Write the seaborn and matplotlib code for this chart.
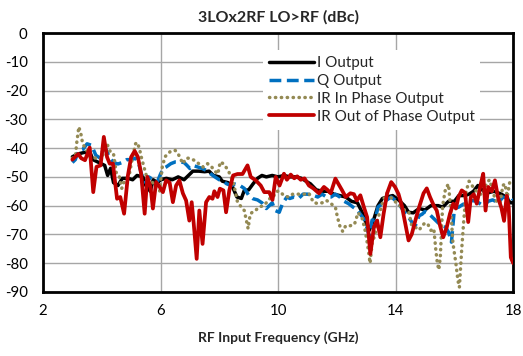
import matplotlib
matplotlib.use("Agg")
import matplotlib.pyplot as plt
import seaborn as sns
import pandas as pd

# Measured spur level (dBc) versus RF input frequency (GHz), one list pair per output
i_freq = [3.0, 3.2, 3.4, 3.6, 3.7, 3.9, 4.1, 4.2, 4.3, 4.4, 4.55, 4.7, 4.9, 5.05, 5.2, 5.4,
          5.5, 5.65, 5.75, 5.9, 6.0, 6.2, 6.4, 6.6, 6.8, 7.0, 7.1, 7.3, 7.5, 7.65, 7.8, 8.0,
          8.1, 8.3, 8.45, 8.6, 8.75, 8.85, 9.0, 9.15, 9.3, 9.45, 9.6, 9.8, 10.0, 10.2, 10.4,
          10.6, 10.8, 10.95, 11.1, 11.3, 11.5, 11.7, 11.9, 12.1, 12.3, 12.5, 12.7, 12.86,
          13.0, 13.1, 13.25, 13.4, 13.55, 13.7, 13.9, 14.1, 14.3, 14.44, 14.6, 14.8, 15.0,
          15.2, 15.45, 15.6, 15.8, 16.0, 16.15, 16.35, 16.5, 16.65, 16.8, 17.0, 17.15, 17.35,
          17.6, 17.75, 17.9, 18.0]
i_dbc = [-43, -42, -41.5, -41.5, -44, -45, -46, -49.5, -47, -52, -53, -50.5, -50.5, -51,
         -49.5, -50, -53, -55, -51, -52, -51, -50.5, -51, -50, -51, -49, -48, -48, -48.2,
         -48, -49.5, -50, -51.5, -52, -53.5, -57, -57.5, -54.7, -54.5, -52.4, -50.5, -49.5,
         -50, -49.5, -50, -49.5, -50, -50, -50.5, -51.5, -52.4, -54.5, -55, -55, -56, -56.5,
         -57, -58.5, -59, -62.3, -66, -68.6, -65, -60, -57.5, -57, -56.5, -58, -60, -62.3,
         -62.5, -61, -61.5, -60, -60, -60.5, -58.5, -58.5, -56.5, -56.5, -56, -55, -53, -55,
         -55.5, -55, -56, -57, -59, -59]

q_freq = [3.0, 3.1, 3.2, 3.35, 3.5, 3.65, 3.8, 3.95, 4.05, 4.15, 4.25, 4.4, 4.55, 4.7, 4.85,
          5.0, 5.15, 5.25, 5.35, 5.5, 5.6, 5.75, 5.9, 6.0, 6.1, 6.2, 6.35, 6.5, 6.65, 6.8,
          6.9, 7.0, 7.1, 7.25, 7.4, 7.55, 7.7, 7.85, 8.0, 8.1, 8.25, 8.4, 8.55, 8.7, 8.85,
          9.0, 9.15, 9.3, 9.45, 9.6, 9.7, 9.8, 9.9, 10.04, 10.15, 10.3, 10.4, 10.55, 10.7,
          10.85, 11.0, 11.2, 11.35, 11.5, 11.65, 11.8, 11.95, 12.1, 12.25, 12.4, 12.55, 12.7,
          12.8, 12.95, 13.1, 13.2, 13.3, 13.4, 13.55, 13.7, 13.85, 14.0, 14.15, 14.3, 14.44,
          14.55, 14.67, 14.8, 14.9, 15.0, 15.15, 15.3, 15.45, 15.6, 15.7, 15.8, 15.9, 16.0,
          16.15, 16.3, 16.45, 16.6, 16.75, 16.9, 17.0, 17.15, 17.3, 17.5, 17.65, 17.8, 17.9,
          18.0]
q_dbc = [-45, -44, -41, -40.5, -38.5, -39, -42.5, -43.5, -40.5, -40.5, -43, -45, -45.5, -45,
         -44, -44, -43.5, -45, -49, -52, -50, -51, -51.5, -49, -47, -46.5, -45.4, -44.8,
         -44.8, -45, -46, -47.1, -46, -46.5, -47, -47.7, -48.9, -50, -51, -51.2, -52.4, -53,
         -52.5, -53, -54, -56.4, -57.6, -58, -59, -61, -60, -59, -61.7, -62.3, -59.3, -57,
         -57.5, -57, -57.5, -56, -56, -56.4, -57, -56, -57, -57, -56, -57, -58.5, -59.3,
         -60.5, -61.5, -63, -65, -70.5, -65, -65, -60.5, -59.3, -58, -57, -58.2, -60, -62.3,
         -64, -65.7, -67, -63.5, -63, -62, -63, -64.5, -66, -67, -67.5, -69.2, -72.7, -61,
         -60.5, -59.5, -59.3, -58.2, -58.5, -59.5, -60, -58.5, -58, -59, -57, -57.5, -56.5,
         -58]

irin_freq = [3.0, 3.1, 3.15, 3.22, 3.3, 3.35, 3.5, 3.6, 3.8, 4.0, 4.1, 4.2, 4.3, 4.4, 4.5,
             4.6, 4.68, 4.75, 4.85, 4.95, 5.05, 5.15, 5.2, 5.28, 5.33, 5.42, 5.5, 5.6, 5.7,
             5.85, 5.97, 6.05, 6.15, 6.25, 6.35, 6.5, 6.6, 6.76, 6.87, 6.98, 7.1, 7.2, 7.3,
             7.45, 7.6, 7.7, 7.85, 7.95, 8.03, 8.15, 8.3, 8.4, 8.5, 8.62, 8.75, 8.85, 8.93,
             8.98, 9.05, 9.15, 9.25, 9.35, 9.5, 9.6, 9.7, 9.8, 9.95, 10.05, 10.2, 10.35,
             10.5, 10.7, 10.9, 11.05, 11.2, 11.35, 11.5, 11.65, 11.8, 11.95, 12.02, 12.1,
             12.2, 12.3, 12.45, 12.6, 12.72, 12.85, 12.95, 13.02, 13.08, 13.13, 13.2, 13.3,
             13.38, 13.48, 13.58, 13.7, 13.82, 13.95, 14.05, 14.2, 14.32, 14.45, 14.55, 14.67,
             14.8, 14.9, 15.0, 15.1, 15.2, 15.3, 15.37, 15.42, 15.47, 15.52, 15.6, 15.7, 15.8,
             15.88, 15.95, 16.05, 16.12, 16.17, 16.25, 16.32, 16.4, 16.5, 16.6, 16.72, 16.85,
             16.98, 17.1, 17.2, 17.3, 17.4, 17.55, 17.65, 17.72, 17.8, 17.88, 18.0]
irin_dbc = [-43.5, -43, -38, -32.6, -35.5, -38.5, -41, -43, -43.5, -44, -39.5, -39, -41.5,
            -42, -49, -50, -54, -52, -51, -48.5, -43, -38.5, -38, -40, -42.5, -46, -49, -51.5,
            -51.5, -54, -55, -47, -43, -42, -41, -40.8, -42, -45.4, -43.5, -43.5, -44, -44.5,
            -45.4, -46.6, -45.4, -46, -48, -49, -44.8, -45.5, -47.7, -50, -53, -58.8, -60.5,
            -61.7, -65.5, -68, -63, -62, -61.5, -60.5, -60, -59, -57.6, -57.5, -55, -55,
            -56.5, -57, -56, -56, -56, -55.7, -58.8, -59.3, -59, -58.2, -59.3, -60.5, -64,
            -67, -69, -67, -67, -66.5, -62.5, -64, -68, -72, -76, -80, -73, -70, -65, -61.7,
            -58, -55.7, -57, -58.2, -59.3, -60.5, -61.7, -62.3, -67, -67.5, -68.5, -67, -66,
            -66.5, -68.6, -68, -75.6, -80, -82.3, -78, -60, -54, -52.5, -62, -73, -80, -86,
            -88.4, -75, -65, -55, -51.5, -53, -54.7, -56, -56, -52, -51, -54.7, -58.2, -59.3,
            -53, -52.4, -57, -52, -51.2]

irout_freq = [3.0, 3.1, 3.2, 3.3, 3.43, 3.59, 3.71, 3.82, 3.96, 4.07, 4.18, 4.27, 4.38, 4.52,
              4.63, 4.76, 4.89, 5.0, 5.12, 5.23, 5.34, 5.46, 5.55, 5.66, 5.74, 5.85, 5.97,
              6.08, 6.19, 6.31, 6.42, 6.53, 6.64, 6.76, 6.87, 6.98, 7.06, 7.13, 7.23, 7.32,
              7.43, 7.55, 7.66, 7.77, 7.83, 7.94, 8.02, 8.14, 8.23, 8.34, 8.47, 8.62, 8.79,
              8.96, 9.07, 9.24, 9.41, 9.53, 9.7, 9.81, 9.92, 10.05, 10.2, 10.3, 10.43, 10.55,
              10.65, 10.77, 10.9, 11.05, 11.2, 11.39, 11.56, 11.68, 11.79, 11.95, 12.05, 12.18,
              12.3, 12.46, 12.58, 12.68, 12.8, 12.92, 13.03, 13.14, 13.26, 13.37, 13.48,
              13.59, 13.71, 13.85, 13.98, 14.1, 14.21, 14.32, 14.44, 14.55, 14.67, 14.8,
              14.95, 15.06, 15.17, 15.3, 15.4, 15.51, 15.62, 15.74, 15.85, 15.96, 16.05,
              16.14, 16.25, 16.36, 16.47, 16.56, 16.66, 16.76, 16.83, 16.9, 16.98, 17.06,
              17.15, 17.27, 17.38, 17.49, 17.6, 17.69, 17.78, 17.85, 17.92, 18.0]
irout_dbc = [-44, -43, -42, -43.5, -44.2, -39.8, -55.3, -46.5, -46, -36.1, -43.1, -45.4,
             -45.4, -57.6, -57, -62.8, -49.5, -43.1, -41, -43.1, -48.9, -62.8, -50, -53.5,
             -61, -51.8, -53.5, -55.3, -51.2, -52, -58.8, -53, -51.2, -55.7, -58.2, -65.2,
             -58.8, -66.3, -78.5, -61.7, -73.3, -58.8, -57, -57.6, -55, -57, -54.1, -54.7,
             -62.3, -54.7, -49.5, -49, -49, -46, -50, -51.2, -53, -55.3, -55.3, -58, -50, -53,
             -48.9, -51, -49.2, -50.5, -49.8, -51, -50.5, -53, -54, -55.7, -53.5, -54.5,
             -55.7, -50.6, -52.4, -54.7, -57, -55.7, -56, -58.2, -56.4, -60.5, -64, -76.8,
             -67.5, -65.2, -71, -62.9, -55.7, -51.8, -53.5, -56, -60, -65.7, -72.1, -69.9,
             -65.2, -60.5, -55.7, -54, -57, -60, -61.7, -66.9, -71, -67.5, -62.8, -59.3, -61,
             -57, -54.7, -55.5, -65.7, -57, -56, -59.3, -56, -52.4, -48.9, -61.7, -53.5, -55,
             -51.2, -57.4, -60.8, -65.3, -56.6, -60.8, -78, -80]

series_names = ["I Output", "Q Output", "IR In Phase Output", "IR Out of Phase Output"]
x_ticks = [2, 6, 10, 14, 18]
y_ticks = [0, -10, -20, -30, -40, -50, -60, -70, -80, -90]

frames = []
for name, fr, db in zip(series_names,
                        [i_freq, q_freq, irin_freq, irout_freq],
                        [i_dbc, q_dbc, irin_dbc, irout_dbc]):
    frames.append(pd.DataFrame({"freq": fr, "dbc": db, "series": name}))
df = pd.concat(frames, ignore_index=True)

sns.set_theme(style="white")
plt.rcParams["font.family"] = ["Lato", "DejaVu Sans"]

fig = plt.figure(figsize=(5.23, 3.56), dpi=100)
ax = fig.add_axes([0.0822, 0.180, 0.899, 0.727])

styles = {
    "I Output": dict(color="#000000", linestyle="-", lw=2.5),
    "Q Output": dict(color="#0070C0", linestyle=(0, (3.4, 1.6)), lw=2.5),
    "IR In Phase Output": dict(color="#948A54", linestyle=(0, (0.1, 1.6)), lw=2.5,
                               dash_capstyle="round"),
    "IR Out of Phase Output": dict(color="#C00000", linestyle="-", lw=2.7),
}
for k, name in enumerate(series_names):
    sub = df[df["series"] == name]
    sns.lineplot(data=sub, x="freq", y="dbc", ax=ax, label=name, sort=False,
                 estimator=None, zorder=3 + k, **styles[name])

ax.set_xlim(2, 18)
ax.set_ylim(-90, 0)
ax.set_xticks(x_ticks)
ax.set_yticks(y_ticks)
ax.set_xticklabels([str(t) for t in x_ticks], fontsize=10.8)
ax.set_yticklabels([str(t) for t in y_ticks], fontsize=10.8)
ax.tick_params(axis="y", length=0, pad=11, colors="#000000")
ax.tick_params(axis="x", length=0, pad=9, colors="#000000")
ax.grid(True, color="#a6a6a6", lw=1.0)
ax.set_axisbelow(True)
for sp in ax.spines.values():
    sp.set_visible(True)
    sp.set_color("#000000")
    sp.set_linewidth(2.0)

ax.set_title("3LOx2RF LO>RF (dBc)", fontsize=11.5, fontweight="bold", pad=8)
ax.set_xlabel("RF Input Frequency (GHz)", fontsize=10, fontweight="bold", labelpad=9)
ax.set_ylabel("")

leg = ax.legend(loc="upper left", bbox_to_anchor=(0.468, 0.935), frameon=True,
                fancybox=False, framealpha=1, facecolor="white", edgecolor="none",
                fontsize=11, handlelength=2.95, handletextpad=0.15, labelspacing=0.25,
                borderpad=0.4, borderaxespad=0)
leg.set_zorder(10)

fig.savefig("out.png", dpi=100)
